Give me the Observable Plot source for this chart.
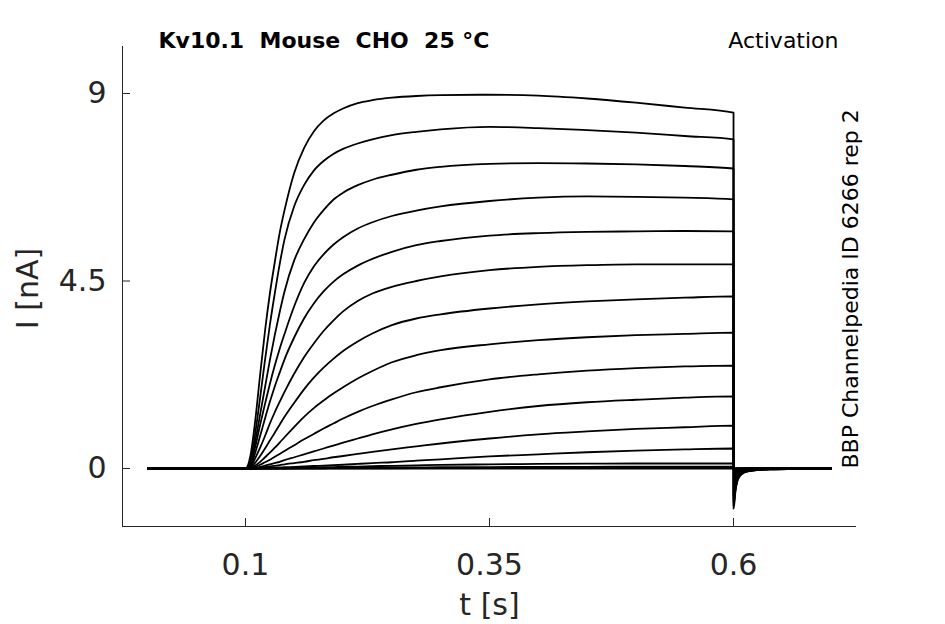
<!DOCTYPE html>
<html>
<head>
<meta charset="utf-8">
<script src="https://cdn.jsdelivr.net/npm/d3@7"></script>
<script src="https://cdn.jsdelivr.net/npm/@observablehq/plot@0.6"></script>
<style>
  html, body { margin: 0; padding: 0; background: #fff; }
  svg { display: block; }
  svg text { white-space: pre; }
</style>
</head>
<body>
<div id="chart"></div>
<script>
// Sample times (s)
const time = [0, 0.1, 0.105, 0.11, 0.115, 0.12, 0.125, 0.13, 0.135, 0.14, 0.15, 0.16, 0.17, 0.18, 0.19, 0.2,
              0.215, 0.23, 0.25, 0.275, 0.3, 0.35, 0.4, 0.45, 0.5, 0.55, 0.6,
              0.6001, 0.602, 0.604, 0.607, 0.61, 0.617, 0.637, 0.7];

// Current sweeps (nA)
const I01 = [0, 0, 0.3, 1.15, 2.25, 3.3, 4.2, 4.95, 5.65, 6.2, 7.1, 7.69, 8.09, 8.35, 8.52, 8.64, 8.77, 8.84, 8.9, 8.94, 8.96, 8.97, 8.95, 8.88, 8.78, 8.66, 8.54,
             -0.96, -0.55, -0.3, -0.17, -0.11, -0.06, -0.02, 0];
const I02 = [0, 0, 0.2, 0.85, 1.7, 2.6, 3.45, 4.2, 4.9, 5.5, 6.3, 6.8, 7.15, 7.38, 7.55, 7.67, 7.8, 7.9, 8.0, 8.08, 8.14, 8.2, 8.17, 8.12, 8.06, 7.98, 7.9,
             -0.89, -0.5, -0.28, -0.16, -0.1, -0.055, -0.02, 0];
const I03 = [0, 0, 0.12, 0.65, 1.3, 1.95, 2.6, 3.2, 3.75, 4.25, 5.0, 5.5, 5.9, 6.2, 6.45, 6.62, 6.8, 6.93, 7.05, 7.17, 7.24, 7.31, 7.33, 7.32, 7.3, 7.26, 7.2,
             -0.81, -0.46, -0.25, -0.14, -0.09, -0.05, -0.02, 0];
const I04 = [0, 0, 0.1, 0.52, 1.05, 1.55, 2.03, 2.47, 2.87, 3.23, 3.9, 4.45, 4.85, 5.14, 5.37, 5.55, 5.76, 5.91, 6.06, 6.19, 6.29, 6.42, 6.5, 6.53, 6.52, 6.5, 6.46,
             -0.73, -0.42, -0.23, -0.13, -0.08, -0.045, -0.015, 0];
const I05 = [0, 0, 0.06, 0.38, 0.78, 1.2, 1.6, 1.97, 2.3, 2.62, 3.15, 3.6, 3.96, 4.25, 4.48, 4.66, 4.87, 5.03, 5.2, 5.36, 5.46, 5.59, 5.65, 5.68, 5.69, 5.7, 5.69,
             -0.64, -0.37, -0.2, -0.11, -0.07, -0.04, -0.015, 0];
const I06 = [0, 0, 0.05, 0.25, 0.5, 0.78, 1.08, 1.35, 1.6, 1.84, 2.28, 2.67, 3.0, 3.3, 3.55, 3.77, 4.02, 4.2, 4.36, 4.5, 4.61, 4.76, 4.84, 4.88, 4.9, 4.9, 4.9,
             -0.55, -0.31, -0.17, -0.1, -0.06, -0.035, -0.01, 0];
const I07 = [0, 0, 0.03, 0.14, 0.3, 0.48, 0.67, 0.86, 1.05, 1.24, 1.58, 1.9, 2.18, 2.42, 2.63, 2.82, 3.05, 3.24, 3.44, 3.6, 3.7, 3.84, 3.94, 4.01, 4.06, 4.1, 4.13,
             -0.46, -0.26, -0.14, -0.08, -0.05, -0.03, -0.01, 0];
const I08 = [0, 0, 0.015, 0.07, 0.16, 0.27, 0.38, 0.5, 0.62, 0.75, 1.0, 1.24, 1.45, 1.63, 1.8, 1.95, 2.16, 2.34, 2.55, 2.72, 2.84, 2.98, 3.08, 3.15, 3.2, 3.23, 3.26,
             -0.37, -0.21, -0.11, -0.065, -0.04, -0.02, -0.01, 0];
const I09 = [0, 0, 0.01, 0.04, 0.09, 0.15, 0.21, 0.28, 0.35, 0.42, 0.56, 0.7, 0.83, 0.96, 1.08, 1.2, 1.36, 1.5, 1.66, 1.83, 1.95, 2.14, 2.26, 2.35, 2.41, 2.45, 2.47,
             -0.28, -0.16, -0.09, -0.05, -0.03, -0.02, -0.005, 0];
const I10 = [0, 0, 0.005, 0.02, 0.04, 0.07, 0.1, 0.13, 0.16, 0.2, 0.27, 0.34, 0.41, 0.48, 0.55, 0.62, 0.72, 0.82, 0.94, 1.07, 1.18, 1.36, 1.5, 1.59, 1.65, 1.7, 1.73,
             -0.19, -0.11, -0.06, -0.035, -0.02, -0.01, 0, 0];
const I11 = [0, 0, 0, 0.01, 0.02, 0.035, 0.05, 0.065, 0.08, 0.1, 0.13, 0.16, 0.2, 0.23, 0.27, 0.3, 0.35, 0.4, 0.46, 0.53, 0.6, 0.72, 0.82, 0.89, 0.95, 0.99, 1.03,
             -0.12, -0.07, -0.04, -0.02, -0.01, -0.005, 0, 0];
const I12 = [0, 0, 0, 0, 0.005, 0.01, 0.015, 0.02, 0.025, 0.03, 0.04, 0.05, 0.06, 0.07, 0.08, 0.09, 0.11, 0.13, 0.15, 0.19, 0.22, 0.29, 0.34, 0.39, 0.43, 0.46, 0.48,
             -0.05, -0.03, -0.02, -0.01, 0, 0, 0, 0];
const I13 = [0, 0, 0, 0, 0, 0.005, 0.006, 0.008, 0.01, 0.012, 0.016, 0.02, 0.025, 0.03, 0.035, 0.04, 0.047, 0.055, 0.065, 0.075, 0.085, 0.1, 0.11, 0.115, 0.12, 0.12, 0.12,
             -0.015, -0.01, 0, 0, 0, 0, 0, 0];
const I14 = [0, 0, 0, 0, 0, 0, 0, 0, 0, 0, 0.005, 0.008, 0.01, 0.012, 0.014, 0.015, 0.018, 0.02, 0.025, 0.028, 0.03, 0.035, 0.04, 0.04, 0.045, 0.045, 0.045,
             0, 0, 0, 0, 0, 0, 0, 0];
const I15 = [0, 0, 0, 0, 0, 0, 0, 0, 0, 0, 0, 0, 0, 0, 0.003, 0.004, 0.005, 0.005, 0.006, 0.008, 0.01, 0.01, 0.015, 0.015, 0.015, 0.02, 0.02,
             0, 0, 0, 0, 0, 0, 0, 0];
const I16 = [0, 0, 0, 0, 0, 0, 0, 0, 0, 0, 0, 0, 0, 0, 0, 0, 0, 0, 0, 0, 0, 0, 0, 0, 0, 0, 0,
             0, 0, 0, 0, 0, 0, 0, 0];
const sweeps = [I16, I15, I14, I13, I12, I11, I10, I09, I08, I07, I06, I05, I04, I03, I02, I01];

// Axis ticks and texts
const xTicks = [0.1, 0.35, 0.6];
const yTicks = [0, 4.5, 9];
const xDomain = [-0.026, 0.726];
const yDomain = [-1.392, 10.128];
const titleText = "Kv10.1  Mouse  CHO  25 °C";
const protocolText = "Activation";
const sourceText = "BBP Channelpedia ID 6266 rep 2";
const xLabel = "t [s]";
const yLabel = "I [nA]";

const rows = sweeps.flatMap((s, k) => time.map((t, j) => ({t, i: s[j], sweep: k})));

const axisColor = "#262626";
const chart = Plot.plot({
  width: 945,
  height: 624,
  marginLeft: 122,
  marginRight: 89,
  marginTop: 46,
  marginBottom: 98,
  style: {fontFamily: "DejaVu Sans", background: "white", color: axisColor, overflow: "visible"},
  x: {domain: xDomain},
  y: {domain: yDomain},
  marks: [
    Plot.ruleX([xDomain[0]], {stroke: axisColor, strokeWidth: 1}),
    Plot.ruleY([yDomain[0]], {stroke: axisColor, strokeWidth: 1}),
    Plot.axisX(xTicks, {tickSize: -8, tickPadding: 35, fontSize: 30, label: null, tickFormat: d => String(d), stroke: axisColor, fill: axisColor}),
    Plot.axisY(yTicks, {tickSize: -8, tickPadding: 24, fontSize: 30, label: null, tickFormat: d => String(d), stroke: axisColor, fill: axisColor}),
    Plot.line(rows, {x: "t", y: "i", z: "sweep", stroke: "black", strokeWidth: 1.8, curve: "monotone-x"}),
    Plot.text([titleText], {frameAnchor: "top-left", textAnchor: "start", lineAnchor: "bottom", dx: 36, dy: 1, fontSize: 22, fontWeight: "bold", fill: "black"}),
    Plot.text([protocolText], {frameAnchor: "top-right", textAnchor: "end", lineAnchor: "bottom", dx: -18, dy: 1, fontSize: 22, fill: "black"}),
    Plot.text([sourceText], {frameAnchor: "bottom-right", textAnchor: "start", lineAnchor: "bottom", rotate: -90, dx: 1, dy: -58, fontSize: 22, fill: "black"}),
    Plot.text([xLabel], {frameAnchor: "bottom", textAnchor: "middle", lineAnchor: "bottom", dy: 88, fontSize: 30, fill: axisColor}),
    Plot.text([yLabel], {frameAnchor: "left", textAnchor: "middle", lineAnchor: "bottom", rotate: -90, dx: -85, dy: 2, fontSize: 30, fill: axisColor})
  ]
});
document.getElementById("chart").appendChild(chart);
</script>
</body>
</html>
